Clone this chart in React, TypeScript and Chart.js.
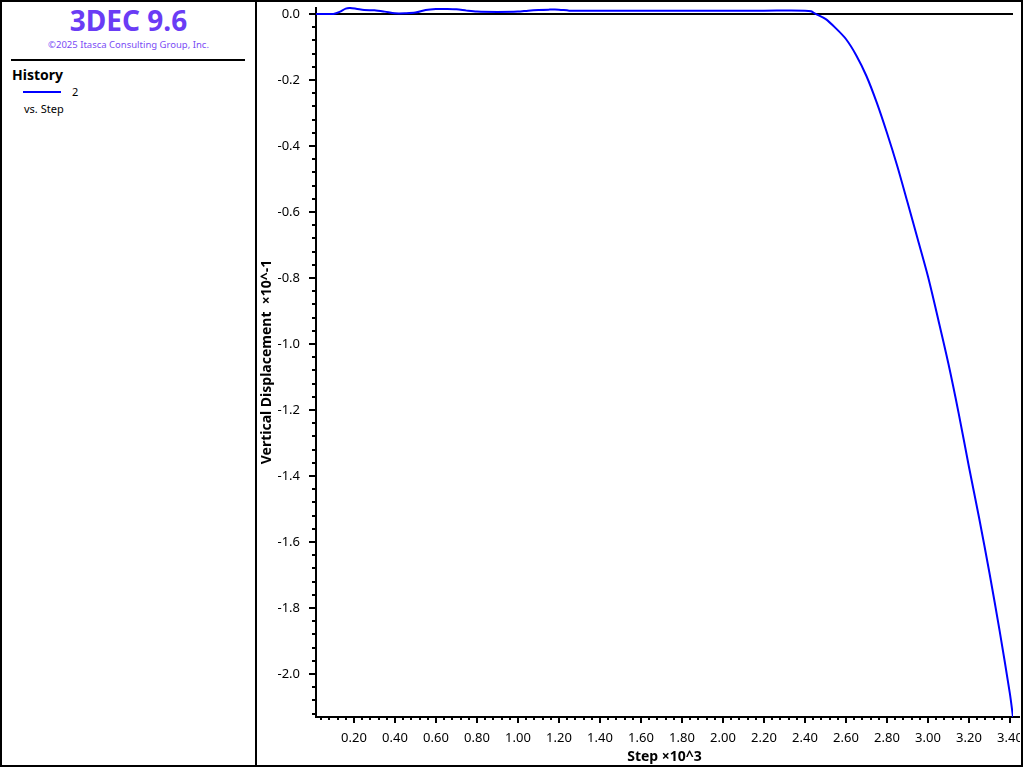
import React, { useEffect, useRef } from "react";
import { Chart, registerables } from "chart.js";

Chart.register(...registerables);

const steps = [0.015, 0.06, 0.10, 0.13, 0.16, 0.18, 0.21, 0.25, 0.30, 0.35, 0.40, 0.45, 0.50, 0.55, 0.60, 0.65, 0.70, 0.75, 0.80, 0.90, 1.00, 1.05, 1.10, 1.15, 1.20, 1.25, 1.40, 1.60, 1.80, 2.00, 2.20, 2.40, 2.43, 2.45, 2.50, 2.55, 2.60, 2.65, 2.70, 2.75, 2.80, 2.85, 2.90, 2.95, 3.00, 3.05, 3.10, 3.15, 3.20, 3.25, 3.30, 3.35, 3.40, 3.415];
const displacement = [0, 0, 0, 0.006, 0.016, 0.018, 0.016, 0.012, 0.011, 0.007, 0.002, 0.002, 0.004, 0.012, 0.015, 0.015, 0.014, 0.010, 0.007, 0.006, 0.007, 0.010, 0.012, 0.013, 0.013, 0.010, 0.010, 0.010, 0.010, 0.010, 0.010, 0.010, 0.008, 0.001, -0.015, -0.043, -0.076, -0.125, -0.188, -0.268, -0.360, -0.460, -0.570, -0.682, -0.795, -0.925, -1.060, -1.210, -1.372, -1.528, -1.693, -1.870, -2.060, -2.130];

const xMajorTicks = [0.2, 0.4, 0.6, 0.8, 1.0, 1.2, 1.4, 1.6, 1.8, 2.0, 2.2, 2.4, 2.6, 2.8, 3.0, 3.2, 3.4];
const yMajorTicks = [0.0, -0.2, -0.4, -0.6, -0.8, -1.0, -1.2, -1.4, -1.6, -1.8, -2.0];
const minorStep = 0.04;

const X_MIN = 0.015;
const X_MAX = 3.415;
const Y_MIN = -2.13;
const Y_MAX = 0.021;

const axisPlugin = {
  id: "customAxes",
  beforeDatasetsDraw(chart: any) {
    const { ctx, chartArea: a, scales } = chart;
    const x = scales.x;
    const y = scales.y;
    ctx.save();
    ctx.strokeStyle = "#000";
    ctx.lineWidth = 2;
    const seg = (x1: number, y1: number, x2: number, y2: number) => {
      ctx.beginPath();
      ctx.moveTo(x1, y1);
      ctx.lineTo(x2, y2);
      ctx.stroke();
    };
    const y0 = Math.round(y.getPixelForValue(0));
    seg(a.left, y0, a.right, y0);
    seg(a.left, a.top, a.left, a.bottom + 1);
    seg(a.left - 1, a.bottom, a.right + 7, a.bottom);
    for (let v = 0; v >= Y_MIN - 1e-9; v -= minorStep) {
      const p = Math.round(y.getPixelForValue(v));
      const major = yMajorTicks.some((t) => Math.abs(t - v) < 1e-6);
      seg(a.left - (major ? 7 : 4), p, a.left, p);
    }
    for (let v = minorStep; v <= X_MAX + 1e-9; v += minorStep) {
      const p = Math.round(x.getPixelForValue(v));
      const major = xMajorTicks.some((t) => Math.abs(t - v) < 1e-6);
      seg(p, a.bottom, p, a.bottom + (major ? 6 : 3));
    }
    ctx.restore();
  },
};

const zeroPad = (s: any) => {
  s.paddingTop = 0;
  s.paddingBottom = 0;
  s.paddingLeft = 0;
  s.paddingRight = 0;
};

export default function App() {
  const ref = useRef<HTMLCanvasElement>(null);
  useEffect(() => {
    document.body.style.margin = "0";
    const canvas = ref.current!;
    const chart = new Chart(canvas, {
      type: "line",
      data: {
        datasets: [
          {
            label: "2",
            data: steps.map((s, i) => ({ x: s, y: displacement[i] })),
            borderColor: "#0000ff",
            borderWidth: 2,
            pointRadius: 0,
            tension: 0.3,
            fill: false,
          },
        ],
      },
      options: {
        animation: false,
        responsive: false,
        maintainAspectRatio: false,
        layout: { padding: { left: 0, top: 5, right: 7, bottom: 0 } },
        plugins: { legend: { display: false }, tooltip: { enabled: false } },
        scales: {
          x: {
            type: "linear",
            min: X_MIN,
            max: X_MAX,
            border: { display: false },
            grid: { display: false, drawTicks: false },
            afterBuildTicks: (s: any) => {
              s.ticks = xMajorTicks.map((v) => ({ value: v }));
            },
            afterFit: (s: any) => {
              s.height = 48;
              zeroPad(s);
            },
            ticks: {
              autoSkip: false,
              maxRotation: 0,
              padding: 13,
              color: "#000",
              font: { family: "'Noto Sans', sans-serif", size: 13 },
              callback: (v: any) => Number(v).toFixed(2),
            },
            title: {
              display: true,
              text: "Step ×10^3",
              color: "#000",
              font: { family: "'Noto Sans', sans-serif", size: 14, weight: "bold" },
              padding: { top: 0, bottom: 0 },
            },
          },
          y: {
            type: "linear",
            min: Y_MIN,
            max: Y_MAX,
            border: { display: false },
            grid: { display: false, drawTicks: false },
            afterBuildTicks: (s: any) => {
              s.ticks = yMajorTicks.map((v) => ({ value: v }));
            },
            afterFit: (s: any) => {
              s.width = 59;
              zeroPad(s);
            },
            ticks: {
              autoSkip: false,
              padding: 16,
              color: "#000",
              font: { family: "'Noto Sans', sans-serif", size: 13 },
              callback: (v: any) => Number(v).toFixed(1),
            },
            title: {
              display: true,
              text: "Vertical Displacement  ×10^-1",
              color: "#000",
              font: { family: "'Noto Sans', sans-serif", size: 14, weight: "bold" },
              padding: { top: 2, bottom: 0 },
            },
          },
        },
      },
      plugins: [axisPlugin],
    });
    return () => chart.destroy();
  }, []);

  const font = "'Noto Sans', sans-serif";
  return (
    <div style={{ position: "absolute", left: 0, top: 0, width: 1023, height: 767, boxSizing: "border-box", border: "2px solid #000", fontFamily: font, background: "#fff" }}>
      <div style={{ position: "absolute", left: 253, top: 0, width: 2, height: 763, background: "#000" }} />
      <div style={{ position: "absolute", left: -2, top: 1, width: 257, textAlign: "center", color: "#6a3cf5", fontWeight: "bold", fontSize: 28, lineHeight: "34px" }}>3DEC 9.6</div>
      <div style={{ position: "absolute", left: -2, top: 37, width: 257, textAlign: "center", color: "#7a4cf5", fontSize: 9.5, lineHeight: "12px" }}>©2025 Itasca Consulting Group, Inc.</div>
      <div style={{ position: "absolute", left: 9, top: 57, width: 234, height: 2, background: "#000" }} />
      <div style={{ position: "absolute", left: 10, top: 64, fontWeight: "bold", fontSize: 14, lineHeight: "18px", color: "#000" }}>History</div>
      <div style={{ position: "absolute", left: 21, top: 89, width: 38, height: 2, background: "#0000ff" }} />
      <div style={{ position: "absolute", left: 70, top: 83, fontSize: 11, lineHeight: "14px", color: "#000" }}>2</div>
      <div style={{ position: "absolute", left: 22, top: 100, fontSize: 11, lineHeight: "14px", color: "#000" }}>vs. Step</div>
      <canvas ref={ref} width={763} height={763} style={{ position: "absolute", left: 255, top: 0, width: 763, height: 763 }} />
    </div>
  );
}
